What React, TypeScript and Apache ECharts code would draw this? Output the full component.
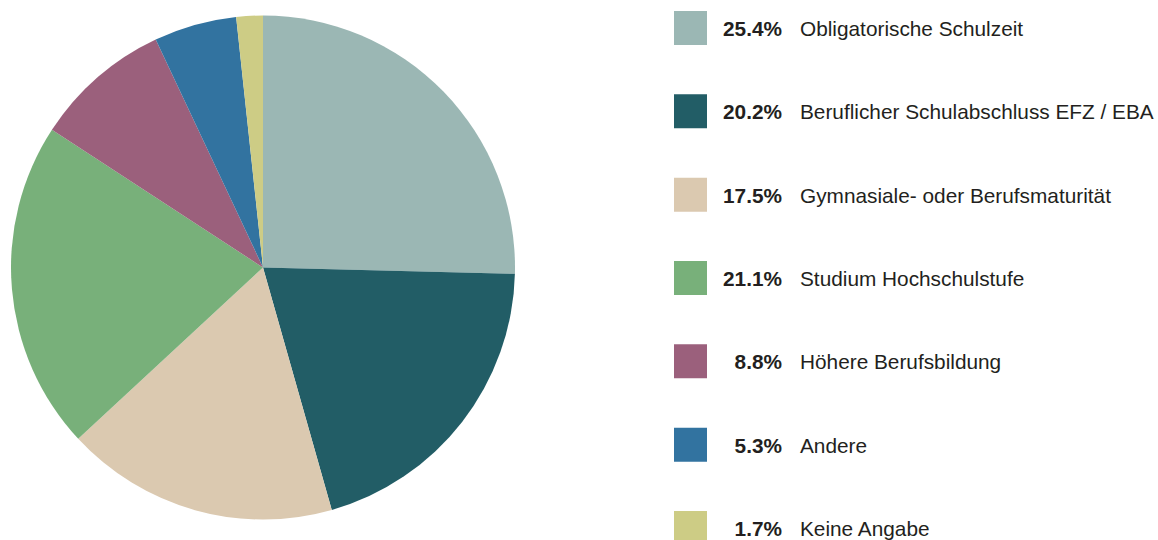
import React, { useEffect, useRef } from "react";
import * as echarts from "echarts";

const categories = [
  "Obligatorische Schulzeit",
  "Beruflicher Schulabschluss EFZ / EBA",
  "Gymnasiale- oder Berufsmaturität",
  "Studium Hochschulstufe",
  "Höhere Berufsbildung",
  "Andere",
  "Keine Angabe",
];
const values = [25.4, 20.2, 17.5, 21.1, 8.8, 5.3, 1.7];
const colors = ["#9bb7b4", "#225d66", "#dbc9b0", "#78b07a", "#9b607c", "#3273a0", "#cdcc85"];

export default function App() {
  const ref = useRef<HTMLDivElement>(null);
  useEffect(() => {
    if (!ref.current) return;
    const chart = echarts.init(ref.current, null, { renderer: "svg" });
    const legendTop = 11;
    const legendStep = 83.33;
    const sq = 34;
    const graphics: any[] = [];
    categories.forEach((name, i) => {
      const top = legendTop + legendStep * i;
      const cy = top + sq / 2 + 0.5;
      graphics.push({
        type: "rect",
        shape: { x: 674, y: top, width: 33, height: sq },
        style: { fill: colors[i] },
      });
      graphics.push({
        type: "text",
        x: 782,
        y: cy,
        style: {
          text: values[i].toFixed(1) + "%",
          font: "bold 20.8px 'Liberation Sans', Arial, sans-serif",
          fill: "#231f20",
          align: "right",
          verticalAlign: "middle",
        },
      });
      graphics.push({
        type: "text",
        x: 800,
        y: cy,
        style: {
          text: name,
          font: "20.8px 'Liberation Sans', Arial, sans-serif",
          fill: "#231f20",
          align: "left",
          verticalAlign: "middle",
        },
      });
    });
    chart.setOption({
      animation: false,
      color: colors,
      graphic: graphics,
      series: [
        {
          type: "pie",
          center: [263, 267.5],
          radius: [0, 252],
          startAngle: 90,
          clockwise: true,
          label: { show: false },
          labelLine: { show: false },
          emphasis: { disabled: true },
          itemStyle: { borderWidth: 0 },
          data: categories.map((name, i) => ({ name, value: values[i] })),
        },
      ],
    });
    return () => chart.dispose();
  }, []);
  return (
    <div
      ref={ref}
      style={{ position: "fixed", left: 0, top: 0, width: 1158, height: 540, background: "#ffffff" }}
    />
  );
}
